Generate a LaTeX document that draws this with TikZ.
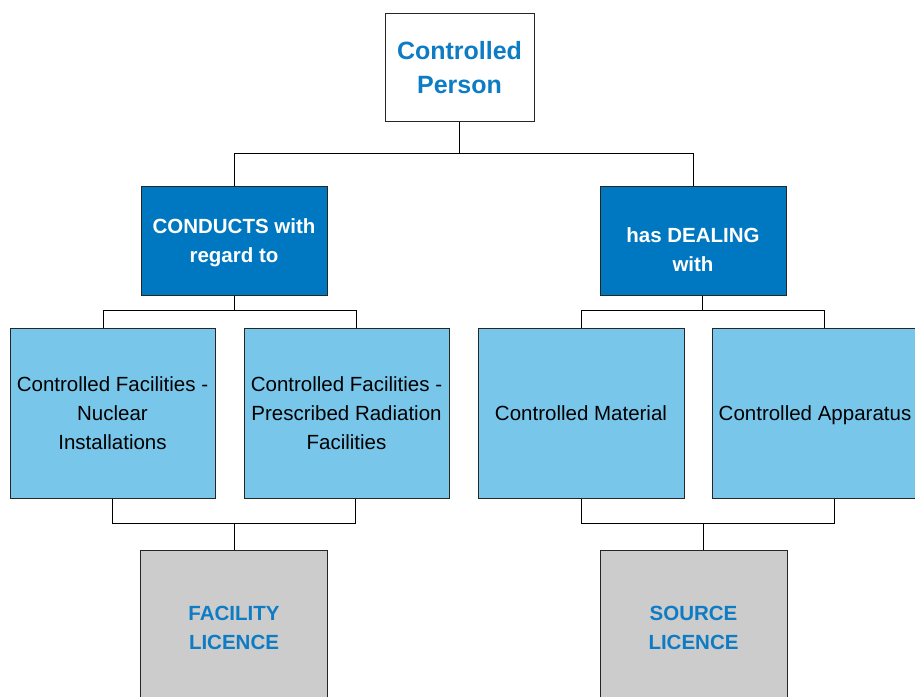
\documentclass[tikz,border=0pt]{standalone}
\usepackage{fontspec}
\setmainfont{Liberation Sans}
\definecolor{titleblue}{RGB}{14,124,196}
\definecolor{darkblue}{RGB}{0,120,193}
\definecolor{lightblue}{RGB}{120,199,235}
\definecolor{licgrey}{RGB}{204,204,204}
\tikzset{
  box/.style={draw=black!85, line width=1pt, inner sep=0pt, align=center, text depth=0pt},
  topbox/.style={box, fill=white, minimum width=149, minimum height=108,
    text=titleblue, font=\bfseries\fontsize{25}{34}\selectfont},
  actbox/.style={box, fill=darkblue, minimum width=186, minimum height=109,
    text=white, font=\bfseries\fontsize{20.5}{29}\selectfont},
  itembox/.style={box, fill=lightblue, minimum width=205, minimum height=170,
    text=black, font=\fontsize{20.5}{29}\selectfont},
  licbox/.style={box, fill=licgrey, minimum width=187, minimum height=155,
    text=titleblue, font=\bfseries\fontsize{20.5}{29}\selectfont},
  link/.style={draw=black, line width=1pt}
}
\begin{document}
\begin{tikzpicture}[x=1pt, y=-1pt]
      \useasboundingbox (0,0) rectangle (915,696);

      \node[topbox] (person) at (459.5,67) {Controlled\\Person};

      \node[actbox] (conducts) at (234,240.5) {CONDUCTS with\\regard to};
      \node[actbox, label={[text=white, font=\bfseries\fontsize{20.5}{29}\selectfont, align=center, yshift=-9.5]center:has DEALING\\with}] (deal) at (693,240.5) {};

      \node[itembox] (nuclear) at (112.5,413) {Controlled Facilities -\\Nuclear\\Installations};
      \node[itembox] (prescribed) at (346.5,413) {Controlled Facilities -\\Prescribed Radiation\\Facilities};
      \node[itembox, minimum width=206] (material) at (581,413) {Controlled Material};
      \node[itembox, minimum width=206] (apparatus) at (815,413) {Controlled Apparatus};

      \node[licbox] (facility) at (234,627.5) {FACILITY\\LICENCE};
      \node[licbox] (source) at (693.5,627.5) {SOURCE\\LICENCE};

      % top level
      \draw[link] (person.south) -- ++(0,31.5) coordinate (topbus);
      \draw[link] (topbus) -| (conducts.north);
      \draw[link] (topbus) -| (deal.north);

      % conducts branch
      \draw[link] (conducts.south) -- ++(0,15) coordinate (cbus);
      \draw[link] (cbus) -| ([xshift=-9.5]nuclear.north);
      \draw[link] (cbus) -| ([xshift=9.5]prescribed.north);
      \coordinate (fbus) at ([yshift=26]facility.north);
      \draw[link] (nuclear.south) |- (fbus);
      \draw[link] ([xshift=8.5]prescribed.south) |- (fbus);
      \draw[link] (fbus) -- (facility.north);

      % dealing branch
      \draw[link] ([xshift=9.5]deal.south) -- ++(0,15) coordinate (dbus);
      \draw[link] (dbus) -| (material.north);
      \draw[link] (dbus) -| ([xshift=9]apparatus.north);
      \coordinate (sbus) at ([xshift=9.5,yshift=26]source.north);
      \draw[link] (material.south) |- (sbus);
      \draw[link] ([xshift=19]apparatus.south) |- (sbus);
      \draw[link] (sbus) -- (sbus |- source.north);
    \end{tikzpicture}
\end{document}
